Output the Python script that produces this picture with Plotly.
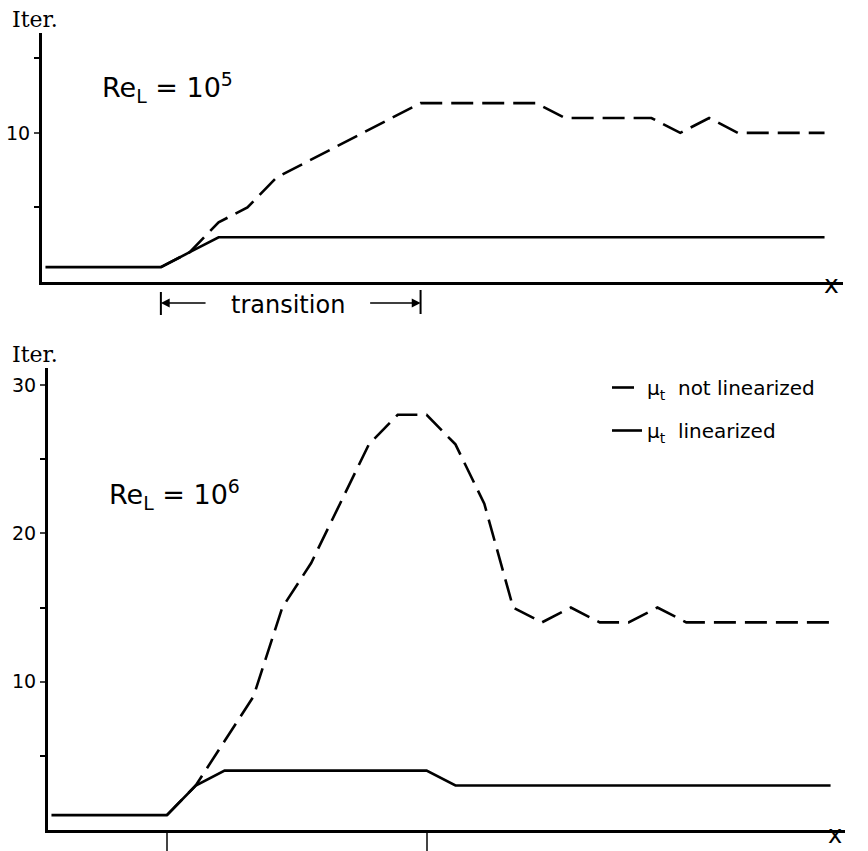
import plotly.graph_objects as go

# ---------------- data (x = station index; transition from station 0 to 9) -------------
top_solid_x = [-4, 0, 1, 2, 23]
top_solid_y = [1, 1, 2, 3, 3]
top_dash_x = list(range(0, 24))
top_dash_y = [1, 2, 4, 5, 7, 8, 9, 10, 11, 12, 12, 12, 12, 12,
              11, 11, 11, 11, 10, 11, 10, 10, 10, 10]

bot_solid_x = [-4, 0, 1, 2, 9, 10, 23]
bot_solid_y = [1, 1, 3, 4, 4, 3, 3]
bot_dash_x = list(range(0, 24))
bot_dash_y = [1, 3, 6, 9, 15, 18, 22, 26, 28, 28, 26, 22, 15, 14,
              15, 14, 14, 15, 14, 14, 14, 14, 14, 14]

top_yticks = [10]
top_yminor = [5, 15]
bot_yticks = [10, 20, 30]
bot_yminor = [5, 15, 25]
bot_xticks = [0, 9]

name_dash = "μ<sub>t</sub>\u00a0\u00a0not linearized"
name_solid = "μ<sub>t</sub>\u00a0\u00a0linearized"

W, H = 868, 851
SANS = "DejaVu Sans"
SERIF = "DejaVu Serif"

def px(x):
    return x / W

def py(y):
    return 1 - y / H

fig = go.Figure()

dash_style = dict(color="black", width=2.6, dash="22px,9px")
solid_style = dict(color="black", width=2.6)

fig.add_trace(go.Scatter(x=top_solid_x, y=top_solid_y, mode="lines", line=solid_style,
                         xaxis="x", yaxis="y", showlegend=False, hoverinfo="skip"))
fig.add_trace(go.Scatter(x=top_dash_x, y=top_dash_y, mode="lines", line=dash_style,
                         xaxis="x", yaxis="y", showlegend=False, hoverinfo="skip"))
fig.add_trace(go.Scatter(x=bot_dash_x, y=bot_dash_y, mode="lines", line=dash_style,
                         xaxis="x2", yaxis="y2", name=name_dash, legendgroup="a"))
fig.add_trace(go.Scatter(x=bot_solid_x, y=bot_solid_y, mode="lines", line=solid_style,
                         xaxis="x2", yaxis="y2", name=name_solid, legendgroup="b"))

axis_common = dict(showgrid=False, zeroline=False, showline=True, linecolor="black",
                   tickfont=dict(family=SANS, size=19, color="black"))

def minor(vals):
    return dict(tickvals=vals, ticks="outside", ticklen=5, tickwidth=2,
                tickcolor="black", showgrid=False)

fig.update_layout(
    width=W, height=H,
    margin=dict(l=0, r=0, t=0, b=0),
    paper_bgcolor="white", plot_bgcolor="white",
    xaxis=dict(domain=[px(42), px(843)], range=[-4.12, 23.64], anchor="y",
               showticklabels=False, ticks="", linewidth=2.5, **axis_common),
    yaxis=dict(domain=[py(282), py(33)], range=[0, 16.7], anchor="x",
               tickvals=top_yticks, ticks="outside", ticklen=5, tickwidth=2,
               linewidth=3, minor=minor(top_yminor), **axis_common),
    xaxis2=dict(domain=[px(48), px(845)], range=[-4.12, 23.5], anchor="y2",
                tickvals=bot_xticks, showticklabels=False, ticks="outside", ticklen=20,
                tickwidth=2, linewidth=2.5, **axis_common),
    yaxis2=dict(domain=[py(830), py(368)], range=[0, 31.15], anchor="x2",
                tickvals=bot_yticks, ticks="outside", ticklen=5, tickwidth=2,
                linewidth=3, minor=minor(bot_yminor), **axis_common),
    showlegend=True,
    legend=dict(x=px(607), y=py(368), xanchor="left", yanchor="top",
                bgcolor="rgba(0,0,0,0)", traceorder="grouped", tracegroupgap=14,
                font=dict(family=SANS, size=20, color="black")),
)

ann = [
    dict(text="Iter.", x=px(10), y=py(20), xanchor="left", yanchor="middle",
         font=dict(family=SERIF, size=22)),
    dict(text="Iter.", x=px(10), y=py(354), xanchor="left", yanchor="middle",
         font=dict(family=SERIF, size=22)),
    dict(text="Re<sub>L</sub> = 10<sup>5</sup>", x=px(100), y=py(88), xanchor="left",
         yanchor="middle", font=dict(family=SANS, size=27)),
    dict(text="Re<sub>L</sub> = 10<sup>6</sup>", x=px(107), y=py(494), xanchor="left",
         yanchor="middle", font=dict(family=SANS, size=27)),
    dict(text="x", x=px(831), y=py(285), xanchor="center", yanchor="middle",
         font=dict(family=SANS, size=25)),
    dict(text="x", x=px(835), y=0, xanchor="center", yanchor="bottom",
         font=dict(family=SANS, size=24)),
    dict(text="transition", x=px(288), y=py(305), xanchor="center", yanchor="middle",
         font=dict(family=SANS, size=24)),
    # bracket arrows
    dict(text="", xref="x", yref="paper", x=0, y=py(303), axref="x", ax=1.6,
         ayref="pixel", ay=0, showarrow=True, arrowhead=2, arrowsize=1.1,
         arrowwidth=1.6, arrowcolor="black", standoff=0),
    dict(text="", xref="x", yref="paper", x=9, y=py(303), axref="x", ax=7.2,
         ayref="pixel", ay=0, showarrow=True, arrowhead=2, arrowsize=1.1,
         arrowwidth=1.6, arrowcolor="black", standoff=0),
]
for a in ann:
    a.setdefault("xref", "paper")
    a.setdefault("yref", "paper")
    a.setdefault("showarrow", False)
    a["font"] = a.get("font", {})
    a["font"].setdefault("color", "black")
fig.update_layout(annotations=ann)

fig.update_layout(shapes=[
    dict(type="line", xref="x", yref="paper", x0=0, x1=0, y0=py(315), y1=py(292),
         line=dict(color="black", width=2)),
    dict(type="line", xref="x", yref="paper", x0=9, x1=9, y0=py(314), y1=py(290),
         line=dict(color="black", width=2)),
])

fig.write_html("out.html",
               config={"displayModeBar": False},
               post_script="document.body.style.margin='0px';"
                           "document.body.style.overflow='hidden';")
